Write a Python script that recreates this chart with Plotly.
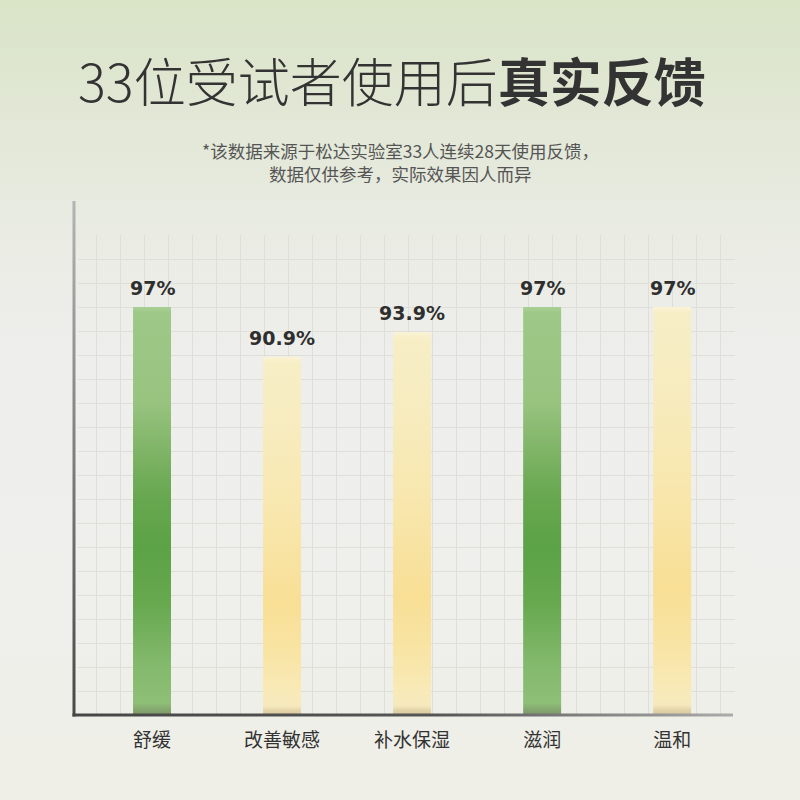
import plotly.graph_objects as go

# ---------------------------------------
# Chart data
# ---------------------------------------
CATEGORIES = ["舒缓", "改善敏感", "补水保湿", "滋润", "温和"]
VALUES = [97, 90.9, 93.9, 97, 97]
VALUE_LABELS = ["97%", "90.9%", "93.9%", "97%", "97%"]
TONES = ["green", "yellow", "yellow", "green", "yellow"]

TITLE = "33位受试者使用后<b>真实反馈</b>"
NOTE_LINES = ["*该数据来源于松达实验室33人连续28天使用反馈，", "数据仅供参考，实际效果因人而异"]

# ---------------------------------------
# Styles
# ---------------------------------------
W = H = 800
Y_MIN, Y_MAX = 47, 110
X_MIN, X_MAX = -0.6, 4.46
BAR_HALF = 0.146

BAR_SCALES = {
    "green": [
        [0.0, "#7b9868"], [0.015, "#86a970"], [0.03, "#8ebf77"], [0.13, "#82b96b"],
        [0.28, "#66a84e"], [0.41, "#5ca246"], [0.54, "#68a850"], [0.67, "#84b76b"],
        [0.77, "#98c480"], [0.985, "#9dc887"], [1.0, "#a9d094"],
    ],
    "yellow": [
        [0.0, "#d6c79d"], [0.012, "#e3d4a8"], [0.025, "#f5e9bd"], [0.06, "#f8eab8"],
        [0.17, "#f8e4a4"], [0.31, "#f8df95"], [0.42, "#f8e2a0"], [0.59, "#f8e8b0"],
        [0.8, "#f7ecbf"], [0.985, "#f7eec6"], [1.0, "#faf3d6"],
    ],
}
BG_SCALE = [
    [0.0, "#d9e4c7"], [0.17, "#e3e8d8"], [0.3, "#eaece4"],
    [0.45, "#eeeeec"], [0.75, "#efefec"], [1.0, "#efefe7"],
]

FONT_CJK = "Noto Sans CJK SC"


def poly(x0, x1, y0, y1):
    return [x0, x1, x1, x0, x0], [y0, y0, y1, y1, y0]


fig = go.Figure()

# background gradient (pixel coordinates, y downwards)
bx, by = poly(0, W, 0, H)
fig.add_trace(go.Scatter(
    x=bx, y=by, mode="lines", fill="toself", line=dict(width=0),
    fillgradient=dict(type="vertical", colorscale=BG_SCALE, start=0, stop=H),
    hoverinfo="skip", xaxis="x", yaxis="y",
))

# graph-paper grid lives on its own axes
fig.add_trace(go.Scatter(x=[], y=[], xaxis="x2", yaxis="y2", hoverinfo="skip"))

# bars with vertical gradients
for i, (cat, val, tone) in enumerate(zip(CATEGORIES, VALUES, TONES)):
    px_, py_ = poly(i - BAR_HALF, i + BAR_HALF, Y_MIN, val)
    fig.add_trace(go.Scatter(
        x=px_, y=py_, mode="lines", fill="toself", line=dict(width=0),
        fillgradient=dict(type="vertical", colorscale=BAR_SCALES[tone]),
        name=cat, hoverinfo="skip", xaxis="x3", yaxis="y3",
    ))

# axis lines drawn on top with their gray fades
lx, ly = poly(72.5, 75.5, 201, 716.5)
fig.add_trace(go.Scatter(
    x=lx, y=ly, mode="lines", fill="toself", line=dict(width=0),
    fillgradient=dict(type="vertical", colorscale=[[0, "#b4b4b4"], [1, "#474747"]],
                      start=201, stop=716.5),
    hoverinfo="skip", xaxis="x4", yaxis="y4",
))
hx, hy = poly(72.5, 733, 713.5, 716.5)
fig.add_trace(go.Scatter(
    x=hx, y=hy, mode="lines", fill="toself", line=dict(width=0),
    fillgradient=dict(type="horizontal",
                      colorscale=[[0, "#464646"], [0.55, "#565656"], [1, "#ababab"]],
                      start=72.5, stop=733),
    hoverinfo="skip", xaxis="x4", yaxis="y4",
))

# value labels above each bar
for i, (val, lab) in enumerate(zip(VALUES, VALUE_LABELS)):
    fig.add_annotation(
        x=i, y=val, xref="x3", yref="y3", text=lab, showarrow=False,
        yanchor="bottom", yshift=6,
        font=dict(family="DejaVu Sans", size=19, color="#2e2e2e", weight="bold"),
    )

fig.add_annotation(
    x=392 / W, y=1 - 80 / H, xref="paper", yref="paper", text=TITLE,
    showarrow=False, xanchor="center", yanchor="middle",
    font=dict(family=FONT_CJK, size=52, color="#333333", weight=300),
)
for k, line in enumerate(NOTE_LINES):
    fig.add_annotation(
        x=400 / W, y=1 - (150 + 23 * k) / H, xref="paper", yref="paper", text=line,
        showarrow=False, xanchor="center", yanchor="middle",
        font=dict(family=FONT_CJK, size=17.5, color="#555555"),
    )

pixel_x = dict(domain=[0, 1], range=[0, W], visible=False, fixedrange=True)
pixel_y = dict(domain=[0, 1], range=[H, 0], visible=False, fixedrange=True)

fig.update_layout(
    width=W, height=H, margin=dict(l=0, r=0, t=0, b=0),
    showlegend=False,
    paper_bgcolor="#eeeeea", plot_bgcolor="rgba(0,0,0,0)",
    xaxis=dict(pixel_x, anchor="y"),
    yaxis=dict(pixel_y, anchor="x"),
    xaxis2=dict(domain=[78 / W, 735 / W], range=[78, 735], tick0=96.7, dtick=24,
                showgrid=True, gridcolor="#dddfd8", gridwidth=1, zeroline=False,
                showticklabels=False, ticks="", showline=False, anchor="y2",
                fixedrange=True),
    yaxis2=dict(domain=[1 - 715 / H, 1 - 235 / H], range=[0, 480], tick0=0, dtick=24,
                showgrid=True, gridcolor="#dddfd8", gridwidth=1, zeroline=False,
                showticklabels=False, ticks="", showline=False, anchor="x2",
                fixedrange=True),
    xaxis3=dict(domain=[74 / W, 732 / W], range=[X_MIN, X_MAX],
                tickvals=list(range(len(CATEGORIES))), ticktext=CATEGORIES,
                tickfont=dict(family=FONT_CJK, size=19, color="#333333"),
                ticks="", ticklabelstandoff=12, showgrid=False, zeroline=False,
                showline=False, anchor="y3", fixedrange=True),
    yaxis3=dict(domain=[1 - 715 / H, 1 - 201 / H], range=[Y_MIN, Y_MAX],
                visible=False, showgrid=False, anchor="x3", fixedrange=True),
    xaxis4=dict(pixel_x, anchor="y4"),
    yaxis4=dict(pixel_y, anchor="x4"),
)

# drop the default page margin so the 800x800 figure fills the window
fig.write_html(
    "out.html",
    config={"displayModeBar": False},
    post_script="document.body.style.margin = '0';",
)
